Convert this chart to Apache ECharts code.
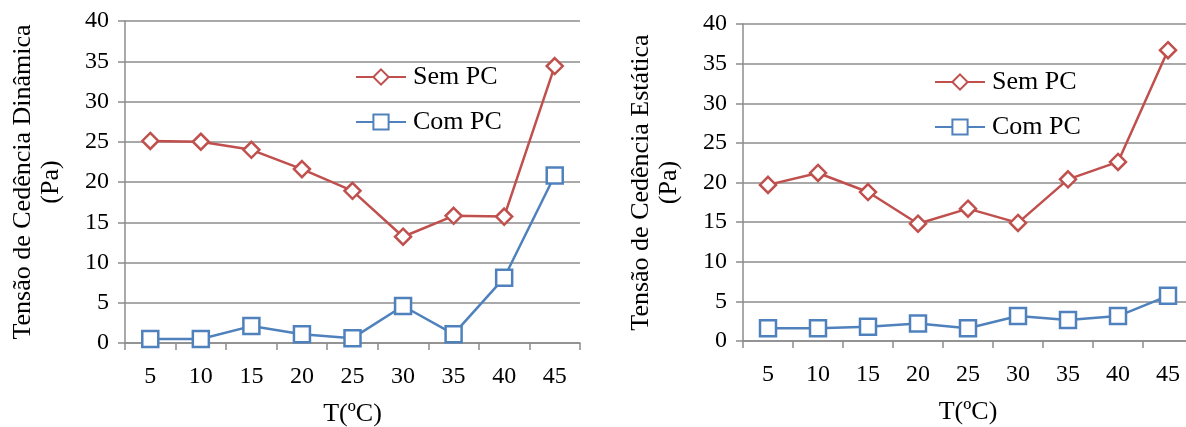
<!DOCTYPE html>
<html>
<head>
<meta charset="utf-8">
<script src="https://cdn.jsdelivr.net/npm/echarts@6/dist/echarts.min.js"></script>
<style>
  html, body { margin: 0; padding: 0; background: #fff; }
  #chart { width: 1186px; height: 427px; }
</style>
</head>
<body>
<div id="chart"></div>
<script>
// Temperatures (ºC)
const temperatures = ['5', '10', '15', '20', '25', '30', '35', '40', '45'];

// Dynamic yield stress (Pa)
const dinamicaSemPC = [25.1, 25.0, 24.0, 21.6, 18.9, 13.2, 15.8, 15.7, 34.4];
const dinamicaComPC = [0.5, 0.5, 2.1, 1.1, 0.6, 4.6, 1.1, 8.1, 20.8];

// Static yield stress (Pa)
const estaticaSemPC = [19.7, 21.2, 18.8, 14.8, 16.7, 14.9, 20.4, 22.6, 36.7];
const estaticaComPC = [1.6, 1.6, 1.8, 2.2, 1.6, 3.15, 2.65, 3.15, 5.7];

const RED = '#C0504D';
const BLUE = '#4F81BD';
const GRID = '#8C8C8C';
const FONT = 'Liberation Serif';

const chart = echarts.init(document.getElementById('chart'), null, { renderer: 'canvas' });

function xAxis(gridIndex) {
  return {
    type: 'category',
    gridIndex,
    data: temperatures,
    boundaryGap: true,
    axisLine: { lineStyle: { color: GRID, width: 1.5 } },
    axisTick: { show: true, length: 7, lineStyle: { color: GRID, width: 1.5 } },
    axisLabel: { color: '#000', fontFamily: FONT, fontSize: 24, margin: 22 },
    name: 'T(ºC)',
    nameLocation: 'middle',
    nameGap: 58,
    nameTextStyle: { color: '#000', fontFamily: FONT, fontSize: 26 }
  };
}

function yAxis(gridIndex, title, gap) {
  return {
    type: 'value',
    gridIndex,
    min: 0,
    max: 40,
    interval: 5,
    axisLine: { show: true, lineStyle: { color: GRID, width: 1.5 } },
    axisTick: { show: true, length: 7, lineStyle: { color: GRID, width: 1.5 } },
    splitLine: { show: true, lineStyle: { color: GRID, width: 1.5 } },
    axisLabel: { color: '#000', fontFamily: FONT, fontSize: 24, margin: 16 },
    name: title + '\n(Pa)',
    nameLocation: 'middle',
    nameRotate: 90,
    nameGap: gap,
    nameTextStyle: { color: '#000', fontFamily: FONT, fontSize: 26, lineHeight: 28, align: 'center' }
  };
}

function lineSeries(name, data, idx, color, symbol, size) {
  return {
    name,
    type: 'line',
    xAxisIndex: idx,
    yAxisIndex: idx,
    data,
    symbol,
    symbolSize: size,
    lineStyle: { color, width: 2.5 },
    itemStyle: { color: '#fff', borderColor: color, borderWidth: 2.5 },
    emphasis: { disabled: true },
    animation: false,
    z: symbol === 'diamond' ? 3 : 2
  };
}

function legend(left, top) {
  return {
    left, top,
    orient: 'vertical',
    padding: 0,
    data: ['Sem PC', 'Com PC'],
    itemWidth: 50,
    itemHeight: 19,
    itemGap: 19,
    textStyle: { color: '#000', fontFamily: FONT, fontSize: 26, padding: [0, 0, 0, 2] },
    selectedMode: false
  };
}

chart.setOption({
  backgroundColor: '#fff',
  animation: false,
  grid: [
    { left: 125, top: 21, width: 455, height: 322, outerBoundsMode: 'none', containLabel: false },
    { left: 743, top: 24, width: 450, height: 317, outerBoundsMode: 'none', containLabel: false }
  ],
  legend: [legend(355, 64), legend(934, 69)],
  xAxis: [xAxis(0), xAxis(1)],
  yAxis: [
    yAxis(0, 'Tensão de Cedência Dinâmica', 60),
    yAxis(1, 'Tensão de Cedência Estática', 60)
  ],
  series: [
    lineSeries('Sem PC', dinamicaSemPC, 0, RED, 'diamond', 16),
    lineSeries('Com PC', dinamicaComPC, 0, BLUE, 'rect', 16),
    lineSeries('Sem PC', estaticaSemPC, 1, RED, 'diamond', 16),
    lineSeries('Com PC', estaticaComPC, 1, BLUE, 'rect', 16)
  ]
});
</script>
</body>
</html>
